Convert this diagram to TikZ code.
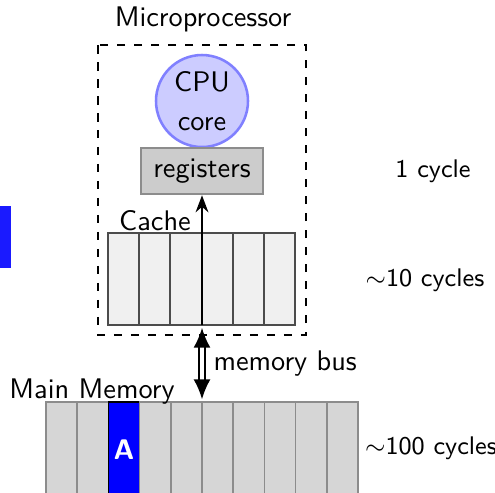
\documentclass[tikz,border=0pt]{standalone}
\usetikzlibrary{arrows.meta}
\renewcommand{\familydefault}{\sfdefault}
\definecolor{cpufill}{RGB}{204,204,255}
\definecolor{cpuline}{RGB}{128,128,255}
\definecolor{barblue}{RGB}{26,26,255}
\begin{document}
\begin{tikzpicture}[x=0.353pt,y=-0.353pt,
  cachecell/.style={draw=black!70,fill=black!6,line width=0.6pt},
  memcell/.style={draw=black!45,fill=black!16,line width=0.6pt},
  lbl/.style={inner sep=0pt,font=\normalsize},
  cyc/.style={inner sep=0pt,font=\small}]
\useasboundingbox (0,0) rectangle (495,492);
\clip (0,0) rectangle (495,492);
% stray blue bar
\fill[barblue] (0,206) rectangle (11,268);
% microprocessor box
\draw[dashed,line width=0.6pt] (98,45) rectangle (306,335);
\node[lbl] (mp) at (203,19) {Microprocessor};
% CPU core
\node[circle,draw=cpuline,fill=cpufill,line width=0.9pt,minimum size=92*0.353pt,inner sep=0pt,align=center] (cpu) at (202,101) {CPU\\[2pt]core};
% registers
\node[draw=black!45,fill=black!20,line width=0.9pt,minimum width=122*0.353pt,minimum height=46*0.353pt,inner sep=0pt] (reg) at (202,171) {registers};
% cache
\foreach \i in {0,...,5}{
  \draw[cachecell] ({108+\i*31.17},233) rectangle ({108+(\i+1)*31.17},325);
}
\coordinate (cachetop) at (202,233);
\coordinate (cachebot) at (202,325);
\node[lbl,anchor=base] (cachelbl) at (155,230) {Cache};
% main memory
\foreach \i in {0,...,9}{
  \ifnum\i=2
    \draw[draw=black,fill=blue,line width=0.6pt] ({46+\i*31.2},402) rectangle ({46+(\i+1)*31.2},500);
  \else
    \draw[memcell] ({46+\i*31.2},402) rectangle ({46+(\i+1)*31.2},500);
  \fi
}
\node[inner sep=0pt,text=white,font=\bfseries] (A) at (124.0,450) {A};
\coordinate (memtop) at (202,402);
\node[lbl,anchor=base] (mm) at (92,398) {Main Memory};
% arrows
\draw[-{Stealth[length=6pt,width=4.5pt]},line width=0.8pt] (cachebot) -- (reg.south);
\draw[{Latex[length=7pt,width=6pt]}-{Latex[length=7pt,width=6pt]},double,double distance=1.3pt,line width=0.6pt] ([yshift=-1pt]cachebot) -- ([yshift=1pt]memtop);
\node[lbl,anchor=west] (bus) at (213,364) {memory bus};
% cycles
\node[cyc] (c1) at (433,171) {1 cycle};
\node[cyc] (c10) at (425,280) {$\sim$10 cycles};
\node[cyc] (c100) at (431,448) {$\sim$100 cycles};
\end{tikzpicture}
\end{document}
